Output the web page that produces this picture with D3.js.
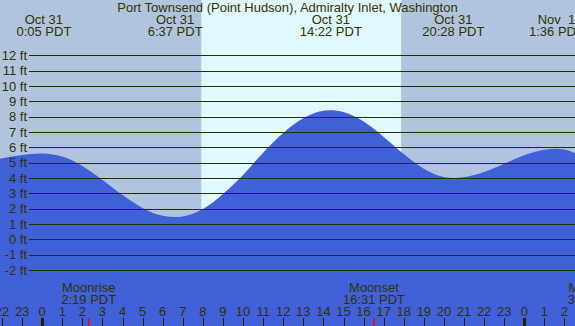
<!DOCTYPE html>
<html>
<head>
<meta charset="utf-8">
<script src="https://cdn.jsdelivr.net/npm/d3@7/dist/d3.min.js"></script>
<style>
html,body{margin:0;padding:0;background:#b0c4de;}
svg{display:block;}
text{font-family:"Liberation Sans",Arial,sans-serif;fill:#333300;}
</style>
</head>
<body>
<script>
// ---- data ----
const title = "Port Townsend (Point Hudson), Admiralty Inlet, Washington";
// hours relative to Oct 31 00:00 PDT
const hours =   [-3,  -2,  -1,   0,   1,   2,   3,   4,   5,   6,   7,   8,   9,  10,  11,  12,  13,  14,  15,  16,  17,  18,  19,  20,  21,  22,  23,  24,  25,  26,  27];
const heights = [4.99,5.28,5.50,5.60,5.40,4.78,3.87,2.89,2.05,1.54,1.49,1.98,2.96,4.20,5.65,6.94,7.90,8.38,8.30,7.68,6.68,5.56,4.60,4.06,4.05,4.39,4.93,5.48,5.84,5.85,5.33];
const eventDates = ["Oct 31", "Oct 31", "Oct 31", "Oct 31", "Nov  1"];
const eventTimes = ["0:05 PDT", "6:37 PDT", "14:22 PDT", "20:28 PDT", "1:36 PDT"];
const eventHours = [0.083, 6.617, 14.367, 20.467, 25.6];
const sunriseHour = 7.92, sunsetHour = 17.87;
const moonLabels = ["Moonrise", "Moonset", "Moonrise"];
const moonTimes = ["2:19 PDT", "16:31 PDT", "3:32 PDT"];
const moonHours = [2.317, 16.517, 27.53];
const yTicks = [-2, -1, 0, 1, 2, 3, 4, 5, 6, 7, 8, 9, 10, 11, 12];
const hourTicks = d3.range(-2, 27);

// ---- layout ----
const W = 575, H = 326, FS = 13;
const x = d3.scaleLinear().domain([0, 24]).range([42.2, 524.3]);
const y = d3.scaleLinear().domain([-2, 12]).range([270, 55.3]);

const svg = d3.select("body").append("svg").attr("width", W).attr("height", H);

svg.append("rect").attr("x", 0).attr("y", 0).attr("width", W).attr("height", H).attr("fill", "#b0c4de");
svg.append("rect").attr("x", x(sunriseHour)).attr("y", 0)
  .attr("width", x(sunsetHour) - x(sunriseHour)).attr("height", H).attr("fill", "#e0f8ff");

const pts = hours.map((h, i) => [h, heights[i]]);
const area = d3.area().x(d => x(d[0])).y0(H).y1(d => y(d[1])).curve(d3.curveCatmullRom.alpha(0.5));
svg.append("path").datum(pts).attr("d", area).attr("fill", "#4060d8");

// grid lines
svg.append("g").selectAll("line").data(yTicks).join("line")
  .attr("x1", 29).attr("x2", W)
  .attr("y1", d => Math.round(y(d)) + 0.5).attr("y2", d => Math.round(y(d)) + 0.5)
  .attr("stroke", "#2b2b00").attr("stroke-width", 1.2);

svg.append("g").selectAll("text").data(yTicks).join("text")
  .attr("x", 27).attr("y", d => y(d) + 4.7).attr("text-anchor", "end")
  .attr("font-size", FS).text(d => d + " ft");

// title
svg.append("text").attr("x", W / 2).attr("y", 12).attr("text-anchor", "middle")
  .attr("font-size", FS).text(title);

// tide events
const ev = svg.append("g").selectAll("g").data(eventHours).join("g");
ev.append("text").attr("x", d => x(d)).attr("y", 24).attr("text-anchor", "middle")
  .attr("font-size", FS).style("white-space", "pre").text((d, i) => eventDates[i]);
ev.append("text").attr("x", d => x(d)).attr("y", 36).attr("text-anchor", "middle")
  .attr("font-size", FS).text((d, i) => eventTimes[i]);

// moon events
const mv = svg.append("g").selectAll("g").data(moonHours).join("g");
mv.append("text").attr("x", d => x(d)).attr("y", 291.5).attr("text-anchor", "middle")
  .attr("font-size", FS).text((d, i) => moonLabels[i]);
mv.append("text").attr("x", d => x(d)).attr("y", 303.5).attr("text-anchor", "middle")
  .attr("font-size", FS).text((d, i) => moonTimes[i]);
mv.append("line").attr("x1", d => x(d)).attr("x2", d => x(d)).attr("y1", 318).attr("y2", H)
  .attr("stroke", "red").attr("stroke-width", 1.5);

// hour axis
const hx = svg.append("g").selectAll("g").data(hourTicks).join("g");
hx.append("text").attr("x", d => x(d)).attr("y", 316).attr("text-anchor", "middle")
  .attr("font-size", FS).text(d => ((d % 24) + 24) % 24);
hx.append("line").attr("x1", d => Math.round(x(d)) + 0.5).attr("x2", d => Math.round(x(d)) + 0.5)
  .attr("y1", 318).attr("y2", H)
  .attr("stroke", "#222200").attr("stroke-width", d => (d % 24 === 0 ? 3 : 1));
</script>
</body>
</html>
